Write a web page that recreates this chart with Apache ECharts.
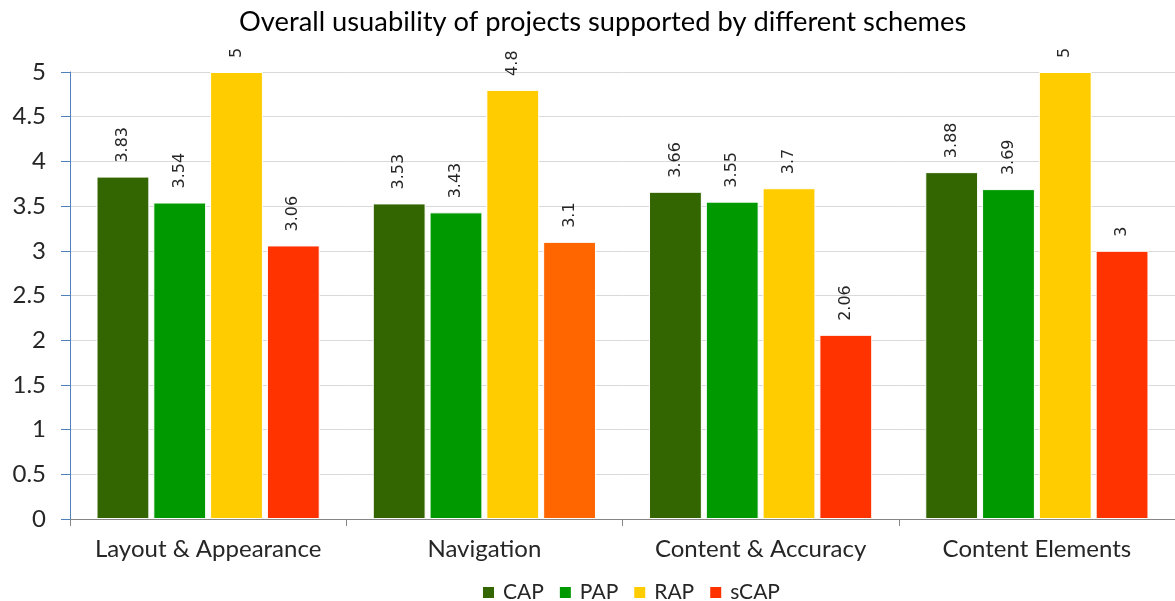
<!DOCTYPE html>
<html><head><meta charset="utf-8">
<script src="https://cdn.jsdelivr.net/npm/echarts@6/dist/echarts.min.js"></script>
<style>html,body{margin:0;padding:0;background:#fff}#c{width:1175px;height:601px}</style>
</head><body><div id="c"></div>
<script>
const categories = ['Layout & Appearance', 'Navigation', 'Content & Accuracy', 'Content Elements'];
const seriesNames = ['CAP', 'PAP', 'RAP', 'sCAP'];
const capValues = [3.83, 3.53, 3.66, 3.88];
const papValues = [3.54, 3.43, 3.55, 3.69];
const rapValues = [5, 4.8, 3.7, 5];
const scapValues = [3.06, 3.1, 2.06, 3];
const yTicks = [0, 0.5, 1, 1.5, 2, 2.5, 3, 3.5, 4, 4.5, 5];

const colors = ['#336600', '#009900', '#FFCC00', '#FF3300'];
const navScapColor = '#FF6600';
const FONT = 'Lato';

const chart = echarts.init(document.getElementById('c'), null, {renderer: 'canvas'});

const label = {
  show: true, position: 'top', rotate: 90, align: 'left', verticalAlign: 'middle',
  distance: 14, fontFamily: 'DejaVu Sans', fontSize: 16, color: '#262626',
  formatter: p => String(p.value)
};

function mk(name, vals, color, overrides) {
  return {
    name, type: 'bar', barGap: '7.5%', barCategoryGap: '19.2%',
    itemStyle: {color, borderColor: '#ffffff', borderWidth: 1},
    label,
    data: vals.map((v, i) => overrides && overrides[i] ? {value: v, itemStyle: {color: overrides[i]}} : v)
  };
}

chart.setOption({
  animation: false,
  title: {
    text: 'Overall usuability of projects supported by different schemes',
    left: 234, top: 4,
    textStyle: {fontFamily: FONT, fontSize: 27.3, fontWeight: 'normal', color: '#000'}
  },
  legend: {
    data: seriesNames, top: 577, left: 476, itemWidth: 13, itemHeight: 13, itemGap: 14,
    icon: 'rect',
    textStyle: {fontFamily: FONT, fontSize: 21, color: '#262626', padding: [0, 0, 0, 3]}
  },
  grid: {left: 70, right: -5, top: 72, bottom: 82, containLabel: false},
  xAxis: {
    type: 'category', data: categories,
    axisLine: {lineStyle: {color: '#868686', width: 1}},
    axisTick: {show: true, interval: 0, alignWithLabel: false, length: 7, lineStyle: {color: '#868686'}},
    axisLabel: {interval: 0, fontFamily: FONT, fontSize: 24, color: '#262626', margin: 18}
  },
  yAxis: {
    type: 'value', min: 0, max: 5, interval: 0.5,
    axisLine: {show: true, lineStyle: {color: '#4F81BD', width: 1}},
    axisTick: {show: true, length: 9, lineStyle: {color: '#4F81BD'}},
    axisLabel: {fontFamily: FONT, fontSize: 24, color: '#262626', margin: 24,
      formatter: v => yTicks.includes(v) ? String(v) : ''},
    splitLine: {lineStyle: {color: '#D9D9D9', width: 1}}
  },
  series: [
    mk('CAP', capValues, colors[0]),
    mk('PAP', papValues, colors[1]),
    mk('RAP', rapValues, colors[2]),
    mk('sCAP', scapValues, colors[3], {1: navScapColor})
  ]
});
</script></body></html>
